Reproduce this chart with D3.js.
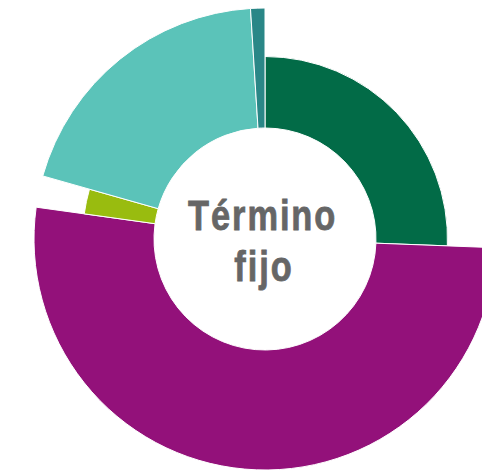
<!DOCTYPE html>
<html>
<head>
<meta charset="utf-8">
<script src="https://cdn.jsdelivr.net/npm/d3@7/dist/d3.min.js"></script>
<style>
  html, body { margin: 0; padding: 0; background: #fff; }
  svg { display: block; }
</style>
</head>
<body>
<svg id="chart" width="482" height="472"></svg>
<script>
// Segment shares (percent of the ring) and their relative outer extent
const categories = ["A", "B", "C", "D", "E"];
const shares = [25.6, 51.6, 2.2, 19.6, 1.0];
const extents = [0.79, 1.0, 0.79, 1.0, 1.0];
const colors = ["#026b47", "#93117a", "#99bc0f", "#5bc3b9", "#2a8787"];
const titleLines = ["Término", "fijo"];

const svg = d3.select("#chart");
const cx = 265, cy = 239;
const innerR = 111;

const rScale = d3.scaleLinear().domain([0, 1]).range([0, 231]);

const data = categories.map((c, i) => ({ cat: c, share: shares[i], ext: extents[i], color: colors[i] }));

const pie = d3.pie().sort(null).value(d => d.share).startAngle(0).endAngle(2 * Math.PI);
const arc = d3.arc()
  .innerRadius(innerR)
  .outerRadius(d => rScale(d.data.ext));

const g = svg.append("g").attr("transform", `translate(${cx},${cy})`);

g.selectAll("path")
  .data(pie(data))
  .join("path")
  .attr("d", arc)
  .attr("fill", d => d.data.color)
  .attr("stroke", "#ffffff")
  .attr("stroke-width", 1);

// Condensed bold title in the hole
const squeeze = 0.8;
const spacing = 2.4;
const label = g.append("text")
  .attr("text-anchor", "middle")
  .attr("transform", `scale(${squeeze},1)`)
  .attr("fill", "#666666")
  .attr("stroke", "#666666")
  .attr("stroke-width", 0.8)
  .style("font-family", "'Liberation Sans', Arial, sans-serif")
  .style("font-weight", "bold")
  .style("font-size", "43px")
  .style("letter-spacing", spacing + "px");

label.selectAll("tspan")
  .data(titleLines)
  .join("tspan")
  .attr("x", (d, i) => (i === 0 ? -3.3 : -2) / squeeze + spacing / 2)
  .attr("y", (d, i) => -9.5 + i * 51.5)
  .text(d => d);
</script>
</body>
</html>
